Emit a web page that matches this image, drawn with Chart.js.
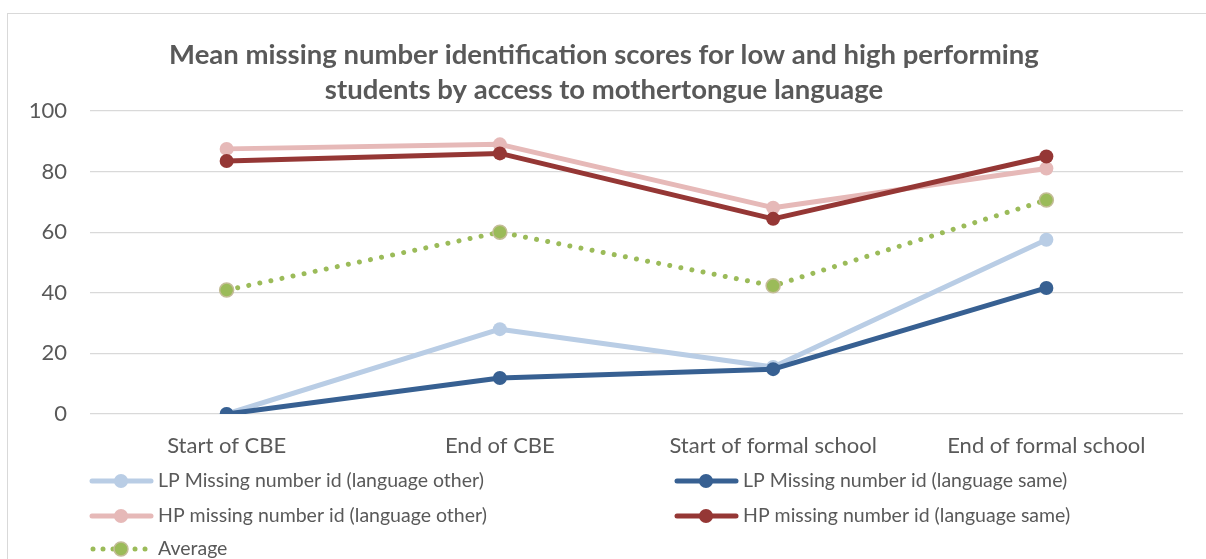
<!DOCTYPE html>
<html>
<head>
<meta charset="utf-8">
<script src="https://cdn.jsdelivr.net/npm/chart.js@4.4.1/dist/chart.umd.min.js"></script>
<style>
  html, body { margin: 0; padding: 0; background: #fff; overflow: hidden; }
  #wrap { position: relative; width: 1206px; height: 559px; }
  #frame { position: absolute; left: 7px; top: 13px; width: 1300px; height: 700px; border: 1px solid #d9d9d9; }
  canvas { position: absolute; left: 0; top: 0; }
</style>
</head>
<body>
<div id="wrap">
  <div id="frame"></div>
  <canvas id="c" width="1206" height="559"></canvas>
</div>
<script>
const categories = ['Start of CBE', 'End of CBE', 'Start of formal school', 'End of formal school'];
const lpOther = [0, 28, 15.5, 57.5];
const lpSame = [0, 11.9, 14.8, 41.6];
const hpOther = [87.5, 89, 68.1, 81];
const hpSame = [83.5, 86, 64.4, 85];
const average = [40.9, 60, 42.3, 70.6];
const yTicks = [0, 20, 40, 60, 80, 100];

const FONT = 'Lato, "Noto Sans", sans-serif';
const GREY = '#595959';

const seriesList = [
  { label: 'LP Missing number id (language other)', data: lpOther, color: '#b9cde5' },
  { label: 'LP Missing number id (language same)', data: lpSame, color: '#376092' },
  { label: 'HP missing number id (language other)', data: hpOther, color: '#e6b9b8' },
  { label: 'HP missing number id (language same)', data: hpSame, color: '#953735' },
  { label: 'Average', data: average, color: '#9bbb59', dotted: true, edge: '#c4bd97' }
];

// legend drawn by hand so the two columns line up like the original
const legendPlugin = {
  id: 'colLegend',
  afterDraw(chart) {
    const ctx = chart.ctx;
    const base = chart.chartArea.bottom;
    const cols = [90, 675];
    const rows = [67, 102, 135];
    ctx.save();
    ctx.font = '19.5px ' + FONT;
    ctx.textBaseline = 'middle';
    seriesList.forEach((s, i) => {
      const x = cols[i % 2];
      const y = base + rows[Math.floor(i / 2)];
      const mx = x + 31;
      ctx.strokeStyle = s.color;
      ctx.fillStyle = s.color;
      ctx.lineWidth = 5;
      ctx.lineCap = 'round';
      if (s.dotted) {
        [3, 13, 23, 45, 55].forEach(dx => {
          ctx.beginPath();
          ctx.arc(x + dx, y, 2.5, 0, Math.PI * 2);
          ctx.fill();
        });
        ctx.beginPath();
        ctx.arc(mx, y, 7, 0, Math.PI * 2);
        ctx.fill();
        ctx.strokeStyle = s.edge;
        ctx.lineWidth = 1.5;
        ctx.stroke();
      } else {
        ctx.beginPath();
        ctx.moveTo(x + 2, y);
        ctx.lineTo(x + 61, y);
        ctx.stroke();
        ctx.beginPath();
        ctx.arc(mx, y, 7, 0, Math.PI * 2);
        ctx.fill();
      }
      ctx.fillStyle = GREY;
      ctx.fillText(s.label, x + 68, y);
    });
    ctx.restore();
  }
};

new Chart(document.getElementById('c'), {
  type: 'line',
  data: {
    labels: categories,
    // later series drawn on top, like the original
    datasets: seriesList.map((s, i) => ({
      label: s.label,
      data: s.data,
      order: seriesList.length - i,
      borderColor: s.color,
      backgroundColor: s.color,
      borderWidth: 5,
      borderDash: s.dotted ? [0.01, 11.3] : [],
      borderCapStyle: s.dotted ? 'round' : 'butt',
      borderJoinStyle: 'round',
      pointRadius: 7,
      pointBorderWidth: s.dotted ? 1.5 : 0,
      pointBorderColor: s.edge || s.color,
      pointBackgroundColor: s.color,
      tension: 0
    }))
  },
  options: {
    responsive: false,
    animation: false,
    layout: { padding: { top: 13, left: 25, right: 23, bottom: 95 } },
    plugins: {
      legend: { display: false },
      tooltip: { enabled: false },
      title: {
        display: true,
        text: ['Mean missing number identification scores for low and high performing',
               'students by access to mothertongue language'],
        color: GREY,
        font: { family: FONT, size: 27.5, weight: 'bold', lineHeight: '35px' },
        padding: { top: 25, bottom: 3 }
      }
    },
    scales: {
      x: {
        offset: true,
        grid: { display: false, drawTicks: false },
        border: { display: false },
        ticks: { color: GREY, font: { family: FONT, size: 22 }, padding: 19, maxRotation: 0 },
        afterFit(scale) { scale.height = 50; }
      },
      y: {
        min: 0,
        max: 100,
        grid: { color: '#d9d9d9', lineWidth: 1.3, drawTicks: false },
        border: { display: false },
        ticks: {
          color: GREY,
          font: { family: FONT, size: 22 },
          padding: 23,
          stepSize: 20,
          callback: v => yTicks.includes(v) ? v : ''
        },
        afterFit(scale) { scale.width = 65; }
      }
    }
  },
  plugins: [legendPlugin]
});
</script>
</body>
</html>
